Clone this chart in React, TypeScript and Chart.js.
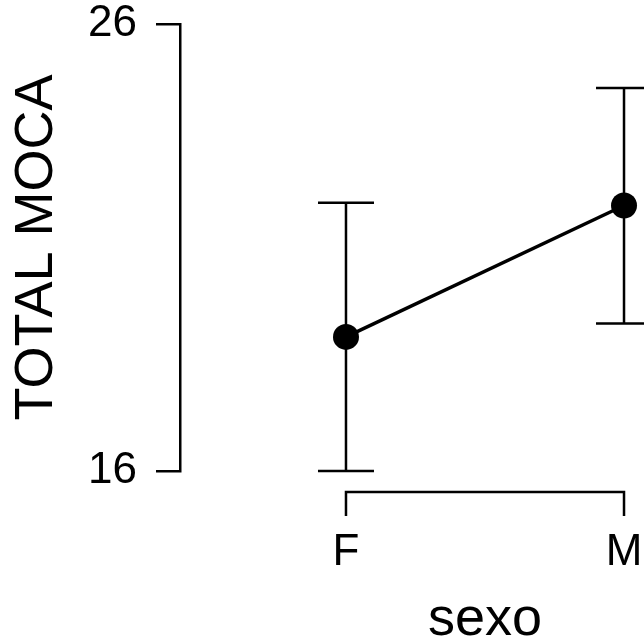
import React, { useEffect, useRef } from "react";
import { Chart, registerables } from "chart.js";

Chart.register(...registerables);

const categories = ["F", "M"];
const means = [19.0, 21.94];
const lowerCI = [16.0, 19.3];
const upperCI = [22.0, 24.57];
const yTickValues = [16, 26];
const xTitle = "sexo";
const yTitle = "TOTAL MOCA";

const FONT = "'Liberation Sans', Arial, sans-serif";
const LW = 2.5;

const errorBarPlugin = {
  id: "errorBars",
  beforeDatasetsDraw(chart: any) {
    const { ctx, scales } = chart;
    const xs = scales.x;
    const ys = scales.y;
    ctx.save();
    ctx.strokeStyle = "#000";
    ctx.lineWidth = LW;
    categories.forEach((_, i) => {
      const px = xs.getPixelForValue(i);
      const lo = ys.getPixelForValue(lowerCI[i]);
      const hi = ys.getPixelForValue(upperCI[i]);
      ctx.beginPath();
      ctx.moveTo(px, lo);
      ctx.lineTo(px, hi);
      ctx.moveTo(px - 28, lo);
      ctx.lineTo(px + 28, lo);
      ctx.moveTo(px - 28, hi);
      ctx.lineTo(px + 28, hi);
      ctx.stroke();
    });
    ctx.restore();
  },
  afterDraw(chart: any) {
    const { ctx, scales, chartArea } = chart;
    const xs = scales.x;
    const y0 = chartArea.bottom + 21;
    const x0 = xs.getPixelForValue(0);
    const x1 = xs.getPixelForValue(categories.length - 1);
    ctx.save();
    ctx.strokeStyle = "#000";
    ctx.lineWidth = LW;
    ctx.beginPath();
    ctx.moveTo(x0, y0 + 24);
    ctx.lineTo(x0, y0);
    ctx.lineTo(x1, y0);
    ctx.lineTo(x1, y0 + 24);
    ctx.stroke();
    ctx.restore();
  },
};

export default function App() {
  const ref = useRef<HTMLCanvasElement>(null);
  useEffect(() => {
    if (!ref.current) return;
    const chart = new Chart(ref.current, {
      type: "line",
      data: {
        datasets: [
          {
            data: means.map((m, i) => ({ x: i, y: m })),
            borderColor: "#000",
            borderWidth: 3.5,
            pointRadius: 13,
            pointBackgroundColor: "#000",
            pointBorderWidth: 0,
            pointBorderColor: "#000",
            fill: false,
            tension: 0,
          },
        ],
      },
      options: {
        animation: false,
        responsive: false,
        devicePixelRatio: 1,
        layout: { padding: { top: 24, right: 30, left: 0, bottom: 0 } },
        plugins: { legend: { display: false }, tooltip: { enabled: false } },
        scales: {
          x: {
            type: "linear",
            min: -0.597,
            max: categories.length - 1 + 0.597,
            afterBuildTicks: (s: any) => {
              s.ticks = categories.map((_, i) => ({ value: i }));
            },
            afterFit: (s: any) => {
              s.height = 229;
              s.paddingLeft = 0;
              s.paddingRight = 0;
            },
            grid: { display: false, drawTicks: false },
            border: { display: false },
            ticks: {
              color: "#000",
              padding: 60,
              font: { family: FONT, size: 44, lineHeight: 1 },
              callback: (v: any) => categories[v as number] ?? "",
            },
            title: {
              display: true,
              text: xTitle,
              color: "#000",
              font: { family: FONT, size: 54, lineHeight: 1 },
              padding: { top: 0, bottom: 53 },
            },
          },
          y: {
            min: 16,
            max: 26,
            afterBuildTicks: (s: any) => {
              s.ticks = yTickValues.map((v) => ({ value: v }));
            },
            afterFit: (s: any) => {
              s.width = 180;
              s.paddingTop = 0;
              s.paddingBottom = 0;
            },
            grid: {
              drawOnChartArea: false,
              drawTicks: true,
              tickLength: 24,
              lineWidth: LW,
              color: "#000",
            },
            border: { display: true, color: "#000", width: LW },
            ticks: {
              color: "#000",
              padding: 19,
              font: { family: FONT, size: 44, lineHeight: 1 },
            },
            title: {
              display: true,
              text: yTitle,
              color: "#000",
              font: { family: FONT, size: 54, lineHeight: 1 },
              padding: { top: 10, bottom: 0 },
            },
          },
        },
      },
      plugins: [errorBarPlugin],
    });
    return () => chart.destroy();
  }, []);
  return (
    <div
      style={{
        position: "fixed",
        left: 0,
        top: 0,
        width: 644,
        height: 642,
        overflow: "hidden",
        background: "#fff",
      }}
    >
      <canvas ref={ref} width={820} height={700} style={{ display: "block" }} />
    </div>
  );
}
